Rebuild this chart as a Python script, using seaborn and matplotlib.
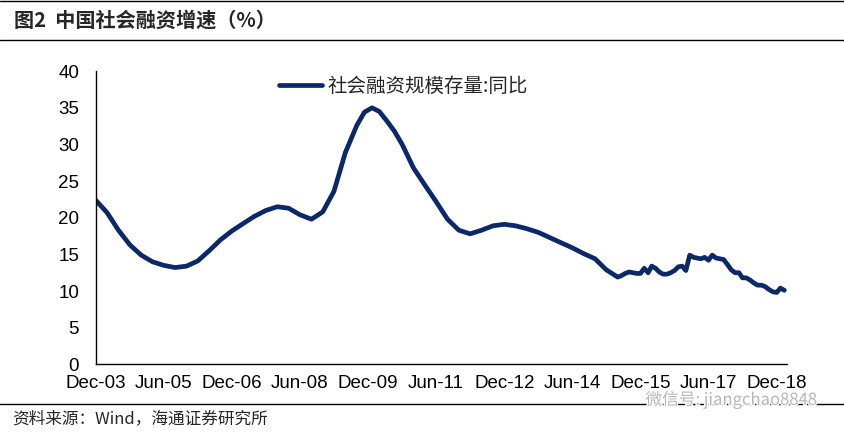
import pandas as pd
import matplotlib.pyplot as plt
import matplotlib.patheffects as pe
from matplotlib.lines import Line2D
import seaborn as sns

# ── Data: 社会融资规模存量同比 (%) ─────────────────────────
months = ["2003-12", "2004-03", "2004-06", "2004-09", "2004-12", "2005-03", "2005-06",
          "2005-09", "2005-12", "2006-03", "2006-06", "2006-09", "2006-12", "2007-03",
          "2007-06", "2007-09", "2007-12", "2008-03", "2008-06", "2008-09", "2008-12",
          "2009-03", "2009-06", "2009-09", "2009-11", "2010-01", "2010-03", "2010-05",
          "2010-07", "2010-09", "2010-12", "2011-03", "2011-06", "2011-09", "2011-12",
          "2012-03", "2012-06",
          "2012-09", "2012-12", "2013-03", "2013-06", "2013-09", "2013-12", "2014-03",
          "2014-06", "2014-09", "2014-12", "2015-03", "2015-06",
          "2015-07", "2015-08", "2015-09", "2015-10", "2015-11", "2015-12",
          "2016-01", "2016-02", "2016-03", "2016-04", "2016-05", "2016-06",
          "2016-07", "2016-08", "2016-09", "2016-10", "2016-11", "2016-12",
          "2017-01", "2017-02", "2017-03", "2017-04", "2017-05", "2017-06",
          "2017-07", "2017-08", "2017-09", "2017-10", "2017-11", "2017-12",
          "2018-01", "2018-02", "2018-03", "2018-04", "2018-05", "2018-06",
          "2018-07", "2018-08", "2018-09", "2018-10", "2018-11", "2018-12",
          "2019-01", "2019-02"]
yoy = [22.4, 20.7, 18.3, 16.3, 14.9, 14.0, 13.5,
       13.2, 13.4, 14.1, 15.5, 17.0, 18.2, 19.2,
       20.2, 21.0, 21.5, 21.3, 20.4, 19.8, 20.8,
       23.6, 28.9, 32.6, 34.4, 35.0, 34.5, 33.2,
       31.8, 30.0, 26.8, 24.5, 22.2, 19.8, 18.3,
       17.8, 18.3,
       18.9, 19.1, 18.9, 18.5, 18.0, 17.3, 16.6,
       15.9, 15.1, 14.4, 12.9, 11.9,
       12.1, 12.4, 12.6, 12.5, 12.4, 12.4,
       13.1, 12.5, 13.4, 13.1, 12.6, 12.3,
       12.3, 12.5, 12.8, 13.3, 13.4, 12.8,
       14.9, 14.6, 14.5, 14.4, 14.6, 14.2,
       14.9, 14.5, 14.4, 14.3, 13.6, 12.9,
       12.5, 12.5, 11.8, 11.8, 11.5, 11.1,
       10.8, 10.8, 10.6, 10.2, 9.9, 9.8,
       10.4, 10.1]
series_name = "社会融资规模存量:同比"
tick_months = ["2003-12", "2005-06", "2006-12", "2008-06", "2009-12", "2011-06",
               "2012-12", "2014-06", "2015-12", "2017-06", "2018-12"]
tick_labels = ["Dec-03", "Jun-05", "Dec-06", "Jun-08", "Dec-09", "Jun-11",
               "Dec-12", "Jun-14", "Dec-15", "Jun-17", "Dec-18"]

df = pd.DataFrame({"date": pd.to_datetime(months), "value": yoy})

# ── Style ────────────────────────────────────────────────
NAVY = "#0B2868"
sns.set_theme(style="white")
plt.rcParams["font.family"] = ["Liberation Sans", "Noto Sans CJK SC", "DejaVu Sans"]

fig = plt.figure(figsize=(8.44, 4.36), dpi=100)
ax = fig.add_axes([0.1134, 0.1644, 0.8194, 0.6724])

sns.lineplot(data=df, x="date", y="value", ax=ax, color=NAVY, lw=3.4,
             label=series_name)

ax.set_ylim(0, 40)
ax.set_yticks(range(0, 41, 5))
ax.set_xlim(pd.Timestamp("2003-12-01"), pd.Timestamp("2019-02-25"))
ax.set_xticks(pd.to_datetime(tick_months))
ax.set_xticklabels(tick_labels)
ax.set_xlabel(""); ax.set_ylabel("")

for s in ["top", "right"]:
    ax.spines[s].set_visible(False)
for s in ["left", "bottom"]:
    ax.spines[s].set_color("black")
    ax.spines[s].set_linewidth(1.0)
ax.tick_params(axis="both", which="major", direction="out", length=5,
               width=1.0, color="black", labelsize=13.5, labelcolor="black")
ax.tick_params(axis="y", pad=7)
ax.tick_params(axis="x", pad=3)

leg = ax.legend(loc="upper left", bbox_to_anchor=(0.24, 1.045), frameon=False,
                handlelength=2.2, handletextpad=0.3,
                prop={"family": ["Noto Sans CJK SC"], "size": 14})

# ── Frame: title, separator lines, source ────────────────
fig.text(0.016, 0.953, "图2  中国社会融资增速（%）", fontsize=14.5, fontweight="bold",
         va="center", ha="left", family=["Noto Sans CJK SC"])
for y in [0.997, 0.909, 0.073]:
    fig.add_artist(Line2D([0, 1], [y, y], transform=fig.transFigure,
                          color="black", lw=1.0))
fig.text(0.014, 0.040, "资料来源：Wind，海通证券研究所", fontsize=12,
         va="center", ha="left", family=["Noto Sans CJK SC"])

# watermark overlay
fig.text(0.968, 0.083, "微信号: jiangchao8848", fontsize=12, color="#B8B8B8",
         va="center", ha="right", family=["Noto Sans CJK SC"],
         path_effects=[pe.withStroke(linewidth=2, foreground="white")])

fig.savefig("out.png", dpi=100)
